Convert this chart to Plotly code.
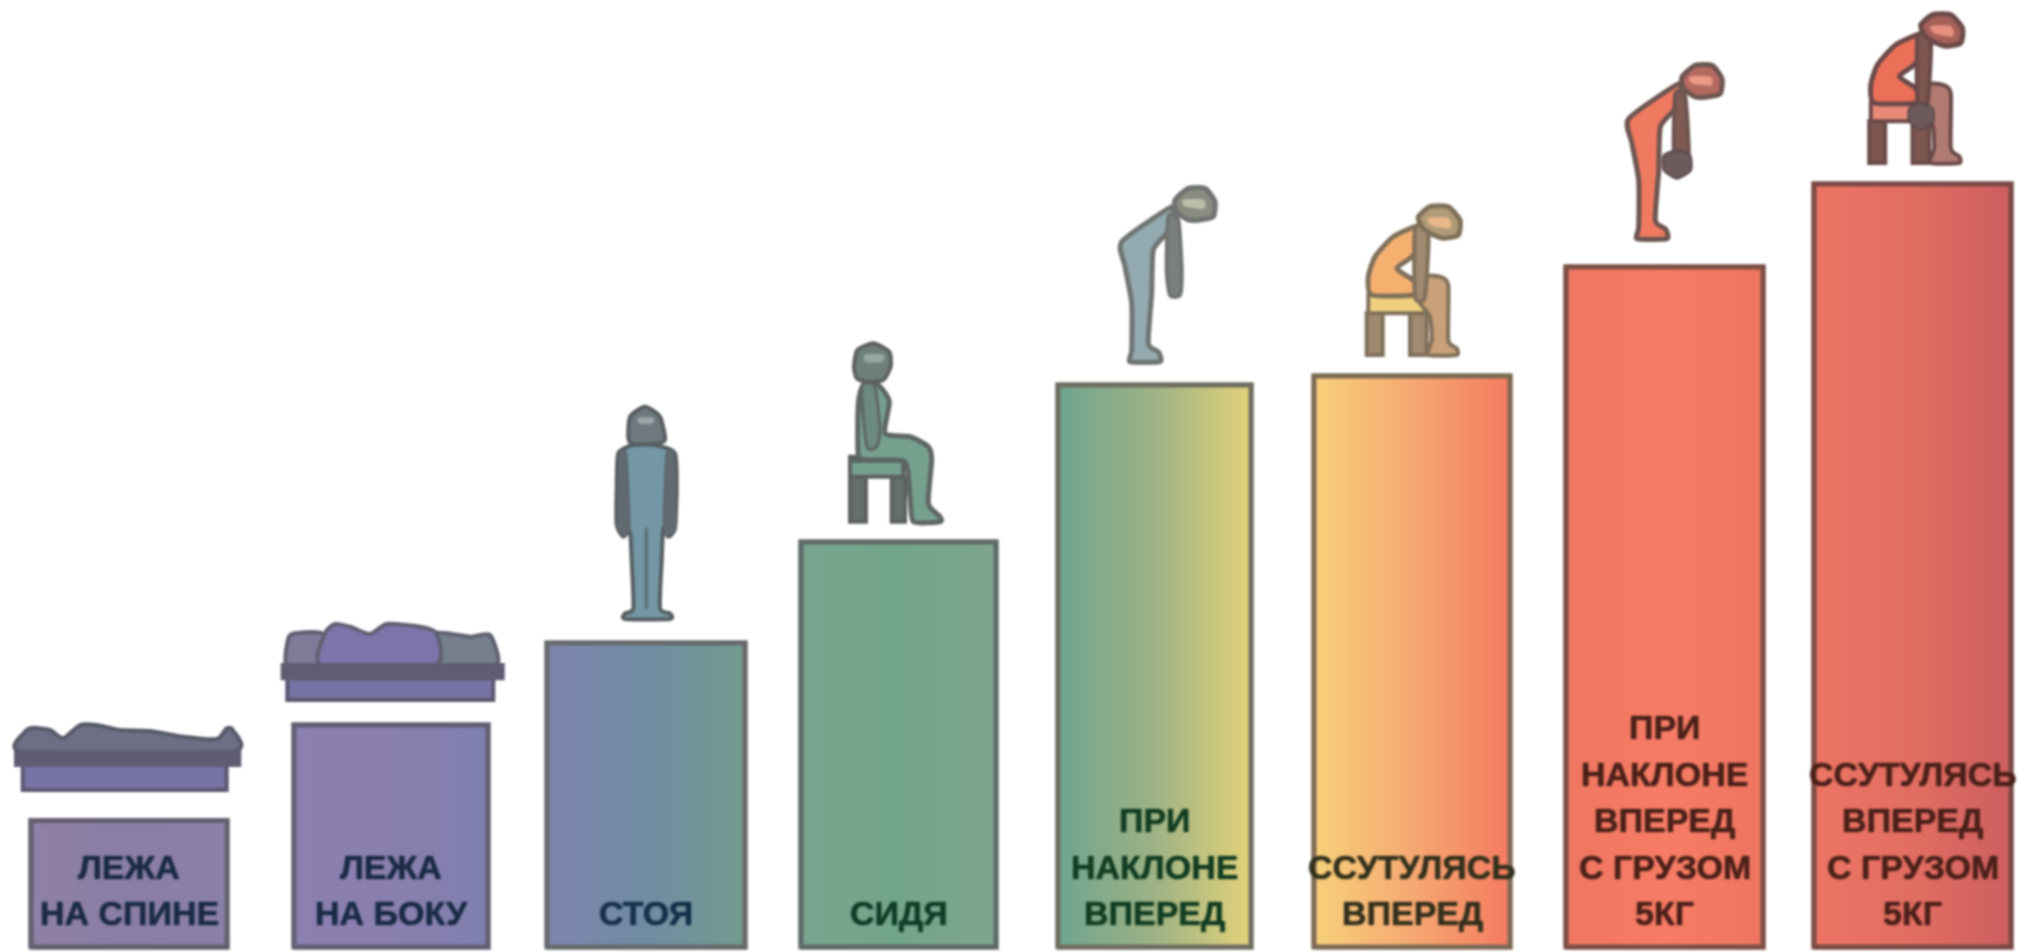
import plotly.graph_objects as go

# ---- data ----
labels = [["ЛЕЖА", "НА СПИНЕ"], ["ЛЕЖА", "НА БОКУ"], ["СТОЯ"], ["СИДЯ"],
          ["ПРИ", "НАКЛОНЕ", "ВПЕРЕД"], ["ССУТУЛЯСЬ", "ВПЕРЕД"],
          ["ПРИ", "НАКЛОНЕ", "ВПЕРЕД", "С ГРУЗОМ", "5КГ"],
          ["ССУТУЛЯСЬ", "ВПЕРЕД", "С ГРУЗОМ", "5КГ"]]
values = [126.5, 222, 304, 405, 562, 571, 680, 763]
positions = [129, 391, 646, 898.5, 1154.5, 1412, 1664.5, 1912.5]
widths = [196, 194, 198, 195, 193, 196, 197, 197]

gradients = [
    ["#8f80a6", "#8a7ea6", "#8b80a8"],
    ["#8b80b0", "#8a7fae", "#7f80ae"],
    ["#7f85b0", "#6f8ca3", "#739c8f"],
    ["#78a590", "#73a58a", "#7fa58f"],
    ["#6fa58f", "#9db285", "#e3d27a"],
    ["#f7d07a", "#f6a972", "#f57b60"],
    ["#ef7660", "#f77c66", "#ee7560"],
    ["#ee7565", "#e26d62", "#cd5f60"],
]
outline = ["#655f70", "#625f72", "#666a6c", "#5f6a66", "#6f6e60", "#7d6a55", "#7c4f45", "#7a4a45"]
text_color = ["#1a2a45", "#1a2a45", "#15304a", "#0f3d28", "#123d22", "#33301c", "#4a2018", "#4a2018"]


def smooth(pts, k=0.1):
    n = len(pts)
    d = f"M {pts[0][0]:.1f},{pts[0][1]:.1f} "
    for i in range(n):
        p0, p1, p2, p3 = pts[i - 1], pts[i], pts[(i + 1) % n], pts[(i + 2) % n]
        c1 = (p1[0] + (p2[0] - p0[0]) * k, p1[1] + (p2[1] - p0[1]) * k)
        c2 = (p2[0] - (p3[0] - p1[0]) * k, p2[1] - (p3[1] - p1[1]) * k)
        d += f"C {c1[0]:.1f},{c1[1]:.1f} {c2[0]:.1f},{c2[1]:.1f} {p2[0]:.1f},{p2[1]:.1f} "
    return d + "Z"


def straight(pts):
    return "M " + " L ".join(f"{x:.1f},{y:.1f}" for x, y in pts) + " Z"


shapes = []


def add(i, origin, pts, fill, line, lw=4, dx=0, dy=0, curved=True):
    ox, oy = origin
    pp = [(positions[i] + dx + (x - ox) / 3, values[i] + dy + (oy - y) / 3) for x, y in pts]
    shapes.append(dict(type="path", xref="x", yref="y", layer="above",
                       path=smooth(pp) if curved else straight(pp),
                       fillcolor=fill, line=dict(color=line, width=lw)))


def rect(x0, y0, x1, y1):
    return [(x0, y0), (x1, y0), (x1, y1), (x0, y1)]


def lying(i, origin, ledge, base, parts, line):
    add(i, origin, base, "#7773a4", "#5a5870", 4, curved=False)
    for pts, col in parts:
        add(i, origin, pts, col, line, 4)
    add(i, origin, ledge, "#5f5d72", "#5f5d72", 4, curved=False)


def bent(i, body, arm, hair, face, line, dx=0, dy=0, weight=False):
    o = (283.5, 645)
    add(i, o, [(335, 110), (185, 215), (195, 290), (215, 400), (215, 540), (210, 575), (300, 575), (295, 545),
               (265, 520), (275, 370), (280, 240), (320, 190), (335, 150)], body, line, 5, dx, dy)
    add(i, o, [(325, 140), (320, 300), (330, 375), (360, 375), (365, 300), (355, 150)], arm, line, 4, dx, dy)
    add(i, o, [(345, 90), (385, 55), (435, 55), (465, 95), (460, 140), (420, 150), (385, 150), (350, 125)],
        hair, line, 5, dx, dy)
    add(i, o, [(370, 90), (430, 90), (432, 115), (375, 108)], face, face, 1, dx, dy)
    if weight:
        add(i, o, [(330, 310), (370, 325), (372, 370), (330, 395), (290, 370), (290, 325)], "#6d5a5c", "#5d4a4c", 2, dx, dy)


def slouch(i, torso, seat, leg, arm, hair, face, line, dx=0, dy=0, weight=False):
    o = (1056, 618)
    add(i, o, rect(920, 430, 968, 555), arm, line, 4, dx, dy, curved=False)
    add(i, o, rect(1050, 430, 1100, 555), arm, line, 4, dx, dy, curved=False)
    add(i, o, rect(925, 375, 1095, 430), seat, line, 4, dx, dy, curved=False)
    add(i, o, [(1090, 320), (1140, 320), (1165, 345), (1165, 510), (1190, 535), (1190, 555), (1105, 555),
               (1115, 510), (1110, 440), (1075, 390)], leg, line, 4, dx, dy)
    add(i, o, [(1085, 165), (1000, 200), (945, 260), (925, 320), (935, 375), (1060, 375), (1075, 345),
               (1045, 320), (1010, 295), (1050, 265), (1080, 230)], torso, line, 5, dx, dy)
    add(i, o, [(1065, 175), (1065, 380), (1095, 380), (1105, 190)], arm, line, 4, dx, dy)
    add(i, o, [(1075, 140), (1110, 110), (1165, 110), (1200, 150), (1195, 195), (1150, 205), (1110, 190), (1085, 170)],
        hair, line, 5, dx, dy)
    add(i, o, [(1105, 145), (1165, 145), (1170, 175), (1115, 165)], face, face, 1, dx, dy)
    if weight:
        add(i, o, [(1074, 375), (1110, 390), (1112, 430), (1074, 455), (1040, 430), (1040, 390)], "#6d5a5c", "#5d4a4c", 2, dx, dy)


# lying on the back
o1 = (357, 316.5)
lying(0, o1,
      [(18, 112), (688, 112), (688, 150), (18, 150)],
      rect(38, 150, 650, 225),
      [([(40, 110), (45, 50), (70, 38), (120, 45), (160, 70), (210, 30), (260, 30), (330, 45), (420, 48),
         (520, 65), (620, 72), (650, 40), (668, 45), (665, 110)], "#6d6f85")],
      "#565a68")
# lying on the side
o2 = (363, 345)
lying(1, o2,
      [(38, 165), (698, 165), (698, 205), (38, 205)],
      rect(52, 205, 670, 270),
      [([(50, 165), (55, 85), (75, 70), (160, 72), (165, 165)], "#7f7a98"),
       ([(490, 165), (495, 70), (600, 80), (660, 75), (680, 165)], "#747e8c"),
       ([(155, 165), (165, 70), (195, 42), (240, 50), (300, 72), (350, 42), (450, 50), (500, 70), (495, 165)], "#7b75aa")],
      "#5f6070")
# standing
o3 = (138, 744)
add(2, o3, [(85, 130), (90, 65), (135, 35), (180, 65), (195, 135), (160, 148), (100, 148)], "#6e7a7e", "#585e62", 4)
add(2, o3, [(55, 175), (100, 150), (165, 150), (225, 175), (230, 280), (225, 400), (205, 425), (190, 400),
            (185, 500), (180, 640), (210, 655), (210, 672), (75, 672), (75, 655), (100, 640), (95, 500),
            (90, 410), (70, 425), (50, 390), (50, 280)], "#7397a5", "#575e62", 4)
add(2, o3, [(55, 178), (80, 178), (90, 400), (70, 425), (50, 390)], "#606a70", "#575e62", 1)
add(2, o3, [(225, 178), (198, 178), (190, 400), (205, 425), (230, 390)], "#606a70", "#575e62", 1)
add(2, o3, [(115, 70), (160, 70), (155, 85), (118, 85)], "#9aa6a8", "#9aa6a8", 1)
add(2, o3, rect(136, 400, 142, 640), "#5f6a70", "#5f6a70", 1, curved=False)
# sitting
o4 = (205.5, 636)
add(3, o4, rect(60, 380, 108, 575), "#666e6a", "#5b615e", 4, curved=False)
add(3, o4, rect(185, 440, 225, 575), "#666e6a", "#5b615e", 4, curved=False)
add(3, o4, rect(60, 392, 220, 440), "#76a08e", "#5b615e", 4, curved=False)
add(3, o4, [(100, 165), (145, 165), (178, 215), (165, 310), (240, 320), (295, 350), (305, 390), (295, 520),
            (330, 560), (330, 575), (250, 575), (240, 500), (225, 395), (120, 390), (85, 375), (85, 220)],
    "#76a08e", "#5e6664", 5)
add(3, o4, [(95, 170), (135, 170), (150, 300), (140, 350), (110, 350)], "#6d8a80", "#5e6664", 3)
add(3, o4, [(72, 110), (82, 60), (130, 40), (178, 65), (182, 110), (160, 150), (110, 155), (80, 145)], "#6f8078", "#5d615e", 4)
add(3, o4, [(105, 75), (160, 75), (155, 95), (108, 95)], "#96a8a0", "#96a8a0", 1)
# bent forward
bent(4, "#93aab0", "#7b807e", "#8a8c80", "#bcc0aa", "#6f7472")
slouch(5, "#f5b070", "#f0d080", "#c8a07a", "#a08a70", "#b09a78", "#e8b888", "#80705a")
bent(6, "#f07a60", "#7e5a52", "#b56a60", "#ea9a85", "#6d5550", dx=-3, dy=5, weight=True)
slouch(7, "#ec7058", "#e88a78", "#b07a70", "#7d5650", "#a56058", "#e89080", "#6a4a48", dx=2, dy=0, weight=True)

# ---- figure ----
fig = go.Figure()
fig.add_trace(go.Bar(x=positions, y=values, width=widths,
                     marker=dict(color=[g[1] for g in gradients], line=dict(color=outline, width=5)),
                     hoverinfo="skip", showlegend=False))
for i, (p, w, v) in enumerate(zip(positions, widths, values)):
    l, r = p - w / 2, p + w / 2
    n = len(gradients[i])
    fig.add_trace(go.Scatter(
        x=[l, r, r, l, l], y=[0, 0, v, v, 0], mode="lines", fill="toself",
        fillgradient=dict(type="horizontal",
                          colorscale=[[j / (n - 1), c] for j, c in enumerate(gradients[i])]),
        line=dict(color=outline[i], width=5), hoverinfo="skip", showlegend=False))
    for k, line_text in enumerate(reversed(labels[i])):
        fig.add_annotation(x=p, y=34 + 46.5 * k, xref="x", yref="y", text=line_text, showarrow=False,
                           xanchor="center", yanchor="middle", align="center",
                           font=dict(family="Liberation Sans Narrow, Arial Narrow, Liberation Sans",
                                     size=34, color=text_color[i], weight="bold",
                                     shadow=f"0 0 1.5px {text_color[i]}"))

fig.update_layout(width=2020, height=952, margin=dict(l=0, r=0, t=0, b=0),
                  paper_bgcolor="white", plot_bgcolor="white", shapes=shapes, showlegend=False,
                  xaxis=dict(range=[0, 2020], visible=False, fixedrange=True),
                  yaxis=dict(range=[-5, 947], visible=False, fixedrange=True))
fig.write_html("out.html", config=dict(displayModeBar=False),
               post_script="document.body.style.margin='0';document.body.style.overflow='hidden';"
                           "document.querySelector('.plot-container').style.filter='blur(0.8px)';")
